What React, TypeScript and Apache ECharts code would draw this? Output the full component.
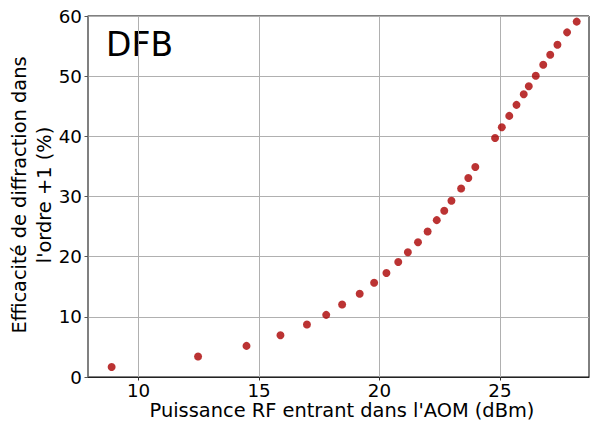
import React, { useEffect, useRef } from "react";
import * as echarts from "echarts";

const powerDbm = [
  8.88, 12.47, 14.48, 15.89, 16.99, 17.79, 18.45, 19.18, 19.78, 20.29, 20.78,
  21.18, 21.6, 22.0, 22.38, 22.69, 22.99, 23.39, 23.69, 23.98, 24.8, 25.08,
  25.39, 25.69, 25.99, 26.2, 26.49, 26.8, 27.09, 27.39, 27.79, 28.19,
];
const efficiency = [
  1.67, 3.4, 5.17, 6.95, 8.73, 10.33, 12.05, 13.83, 15.67, 17.28, 19.12,
  20.73, 22.4, 24.17, 26.07, 27.62, 29.28, 31.33, 33.07, 34.9, 39.73, 41.5,
  43.4, 45.23, 47.0, 48.33, 50.07, 51.9, 53.57, 55.23, 57.28, 59.07,
];
const xTicks = [10, 15, 20, 25];
const title = "DFB";
const xName = "Puissance RF entrant dans l'AOM (dBm)";
const yNameLine1 = "Efficacité de diffraction dans";
const yNameLine2 = "l'ordre +1 (%)";

export default function App() {
  const ref = useRef<HTMLDivElement>(null);
  useEffect(() => {
    if (!ref.current) return;
    const chart = echarts.init(ref.current, undefined, { renderer: "svg" });
    const font = "DejaVu Sans";
    chart.setOption({
      animation: false,
      textStyle: { fontFamily: font },
      grid: {
        left: 88,
        top: 16,
        right: 1,
        bottom: 44,
        show: true,
        borderColor: "#000",
        borderWidth: 1,
        backgroundColor: "transparent",
      },
      xAxis: {
        type: "value",
        min: 7.9,
        max: 28.7,
        axisLine: { show: true, lineStyle: { color: "#222", width: 1.2 } },
        axisTick: {
          show: true,
          length: 3.5,
          customValues: xTicks,
          lineStyle: { color: "#333" },
        },
        axisLabel: {
          customValues: xTicks,
          fontSize: 18.3,
          lineHeight: 18,
          color: "#000",
          margin: 4,
          fontFamily: font,
        },
        splitLine: { show: true, lineStyle: { color: "#b0b0b0", width: 1 } },
      },
      yAxis: {
        type: "value",
        min: 0,
        max: 60,
        interval: 10,
        axisLine: { show: true, lineStyle: { color: "#808080", width: 1.5 } },
        axisTick: { show: true, length: 3.5, lineStyle: { color: "#555" } },
        axisLabel: {
          fontSize: 18.3,
          color: "#000",
          margin: 6,
          fontFamily: font,
        },
        splitLine: { show: true, lineStyle: { color: "#b0b0b0", width: 1 } },
      },
      graphic: [
        {
          type: "text",
          left: 106,
          top: 28,
          style: { text: title, fontSize: 33, fill: "#000", fontFamily: font },
        },
        {
          type: "text",
          x: 342,
          y: 410.5,
          style: {
            text: xName,
            fontSize: 19.4,
            lineHeight: 19,
            fill: "#000",
            fontFamily: font,
            align: "center",
            verticalAlign: "middle",
          },
        },
        {
          type: "text",
          x: 19,
          y: 195,
          rotation: Math.PI / 2,
          style: {
            text: yNameLine1,
            fontSize: 19.4,
            fill: "#000",
            fontFamily: font,
            align: "center",
            verticalAlign: "middle",
          },
        },
        {
          type: "text",
          x: 44,
          y: 195,
          rotation: Math.PI / 2,
          style: {
            text: yNameLine2,
            fontSize: 19.4,
            fill: "#000",
            fontFamily: font,
            align: "center",
            verticalAlign: "middle",
          },
        },
      ],
      series: [
        {
          type: "scatter",
          data: powerDbm.map((x, i) => [x, efficiency[i]]),
          symbol: "circle",
          symbolSize: 8,
          itemStyle: { color: "#aa0000" },
        },
      ],
    });
    return () => chart.dispose();
  }, []);
  return <div ref={ref} style={{ width: 590, height: 421, position: "absolute", left: 0, top: 0 }} />;
}
